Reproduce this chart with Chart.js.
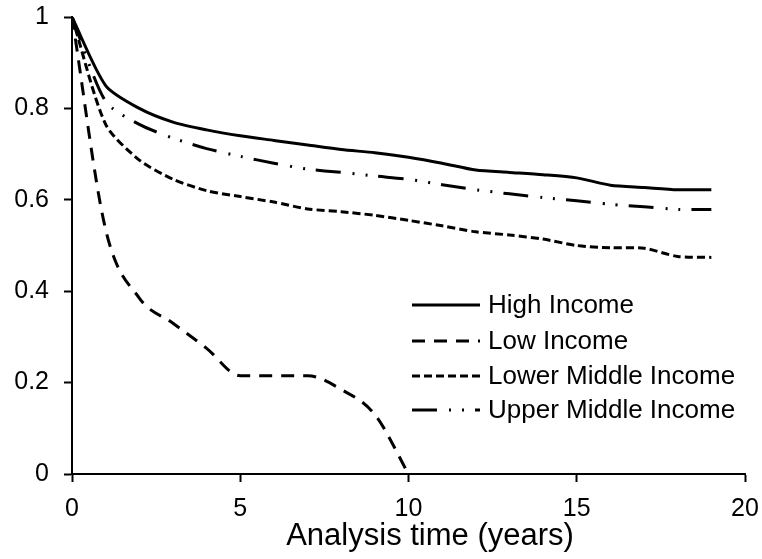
<!DOCTYPE html>
<html>
<head>
<meta charset="utf-8">
<script src="https://cdn.jsdelivr.net/npm/chart.js@4"></script>
<style>
  html, body { margin: 0; padding: 0; background: #fff; }
  #wrap { width: 762px; height: 559px; }
</style>
</head>
<body>
<div id="wrap"><canvas id="survival"></canvas></div>
<script>
// data (survival proportion by year)
const years = [0, 1, 2, 3, 4, 5, 6, 7, 8, 9, 10, 11, 12, 13, 14, 15, 16, 17, 18, 19];
const highIncome = [1, 0.85, 0.80, 0.77, 0.753, 0.74, 0.73, 0.72, 0.71, 0.703, 0.693, 0.68, 0.665, 0.66, 0.655, 0.648, 0.632, 0.627, 0.622, 0.622];
const lowIncome = [1, 0.535, 0.385, 0.33, 0.275, 0.215, 0.215, 0.215, 0.185, 0.13, 0];
const lowerMiddleIncome = [1, 0.765, 0.687, 0.645, 0.62, 0.607, 0.595, 0.58, 0.574, 0.566, 0.555, 0.543, 0.53, 0.523, 0.514, 0.5, 0.495, 0.494, 0.476, 0.474];
const upperMiddleIncome = [1, 0.815, 0.765, 0.735, 0.712, 0.695, 0.68, 0.667, 0.66, 0.652, 0.645, 0.633, 0.622, 0.613, 0.605, 0.598, 0.59, 0.585, 0.579, 0.579];
const seriesLabels = ['High Income', 'Low Income', 'Lower Middle Income', 'Upper Middle Income'];
const xTicks = [0, 5, 10, 15, 20];
const yTicks = [0, 0.2, 0.4, 0.6, 0.8, 1];

function toPoints(values) {
    return values.map((v, i) => ({ x: years[i], y: v }));
}

const dashes = [[], [13, 9], [8, 4], [25, 12, 2, 11, 2, 11]];
const allSeries = [highIncome, lowIncome, lowerMiddleIncome, upperMiddleIncome];

// legend drawn inside the plot, like the original
const innerLegend = {
    id: 'innerLegend',
    afterDatasetsDraw(chart) {
        const ctx = chart.ctx;
        const x0 = 412, x1 = 480, textX = 488;
        const rows = [305, 341, 376, 410];
        ctx.save();
        ctx.font = '26px "Liberation Sans", Arial, sans-serif';
        ctx.fillStyle = '#000';
        ctx.textBaseline = 'middle';
        chart.data.datasets.forEach((ds, i) => {
            ctx.beginPath();
            ctx.setLineDash(ds.borderDash || []);
            ctx.lineWidth = 3;
            ctx.strokeStyle = '#000';
            ctx.moveTo(x0, rows[i]);
            ctx.lineTo(x1, rows[i]);
            ctx.stroke();
            ctx.setLineDash([]);
            ctx.fillText(ds.label, textX, rows[i] + 1);
        });
        ctx.restore();
    }
};

Chart.defaults.font.family = '"Liberation Sans", Arial, sans-serif';
Chart.defaults.color = '#000';

var ctx = document.getElementById('survival').getContext('2d');
var chart = new Chart(ctx, {
    type: 'line',
    data: {
        datasets: allSeries.map((vals, i) => ({
            label: seriesLabels[i],
            data: toPoints(vals),
            borderColor: '#000',
            borderWidth: 3,
            borderDash: dashes[i],
            pointRadius: 0,
            fill: false,
            tension: 0.25,
            cubicInterpolationMode: i === 1 ? 'monotone' : 'default'
        }))
    },
    options: {
        responsive: true,
        maintainAspectRatio: false,
        animation: false,
        layout: { padding: { left: 0, right: 0, top: 0, bottom: 0 } },
        plugins: {
            legend: { display: false },
            tooltip: { enabled: false }
        },
        scales: {
            x: {
                type: 'linear',
                min: 0,
                max: 20,
                afterBuildTicks: axis => { axis.ticks = xTicks.map(v => ({ value: v })); },
                afterFit: axis => { axis.height = 85; axis.paddingRight = 17; axis.paddingLeft = 0; },
                ticks: { font: { size: 25 }, padding: 12, maxRotation: 0 },
                grid: { drawOnChartArea: false, color: '#000', tickLength: 8, tickWidth: 2 },
                border: { color: '#000', width: 2 },
                title: { display: true, text: '     Analysis time (years)', font: { size: 31 }, padding: { top: 0, bottom: 4 } }
            },
            y: {
                min: 0,
                max: 1,
                afterBuildTicks: axis => { axis.ticks = yTicks.map(v => ({ value: v })); },
                afterFit: axis => { axis.width = 72; axis.paddingTop = 17; axis.paddingBottom = 0; },
                ticks: { font: { size: 25 }, padding: 15, callback: v => String(Math.round(v * 10) / 10) },
                grid: { drawOnChartArea: false, color: '#000', tickLength: 8, tickWidth: 2 },
                border: { color: '#000', width: 2 }
            }
        }
    },
    plugins: [innerLegend]
});
</script>
</body>
</html>
